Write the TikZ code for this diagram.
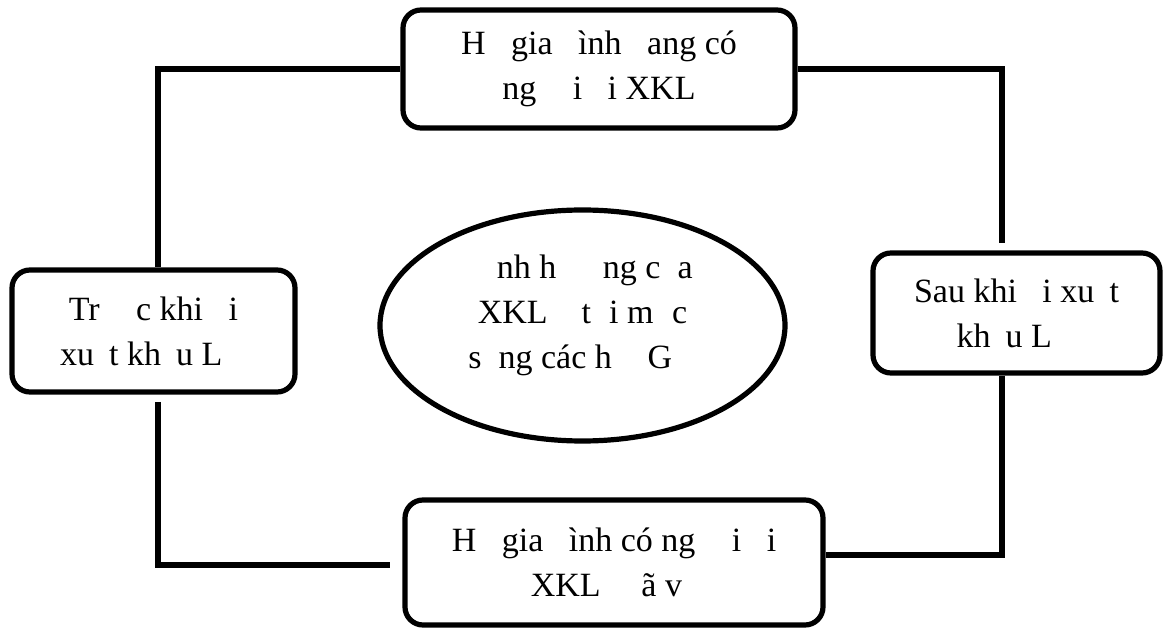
\documentclass[tikz,border=0pt]{standalone}
\usepackage{fontspec}
\setmainfont{Liberation Serif}
\usetikzlibrary{shapes.geometric}
\tikzset{every node/.append style={font=\fontsize{17}{22.5}\selectfont}}
\tikzset{box/.style={draw,rounded corners=9pt,line width=2.6pt,align=center,inner sep=0pt}}
\tikzset{conn/.style={line width=2.8pt}}

\begin{document}
\begin{tikzpicture}[x=0.5pt,y=-0.5pt]
  \useasboundingbox (0,0) rectangle (1163,630);

  \node[box,minimum width=196pt,minimum height=59pt] (current) at (599,69)
    {H\hphantom{ộ} gia \hphantom{đ}ình \hphantom{đ}ang có\\ng\hphantom{ườ}i \hphantom{đ}i XKL};
  \node[box,minimum width=141.5pt,minimum height=61pt] (before) at (153.5,331)
    {Tr\hphantom{ướ}c khi \hphantom{đ}i\\xu\hphantom{ấ}t kh\hphantom{ẩ}u L\hphantom{Đ}};
  \node[box,minimum width=143.5pt,minimum height=60pt] (after) at (1016.5,313)
    {Sau khi \hphantom{đ}i xu\hphantom{ấ}t\\kh\hphantom{ẩ}u L\hphantom{Đ}};
  \node[box,minimum width=209pt,minimum height=62.5pt] (returned) at (614,562.5)
    {H\hphantom{ộ} gia \hphantom{đ}ình có ng\hphantom{ườ}i \hphantom{đ}i\\XKL \hspace{0.45em}\hphantom{đ}ã v\hphantom{ề}};

  \node[ellipse,draw,line width=2.6pt,minimum width=202.5pt,minimum height=115.5pt] (impact) at (582.5,325.5) {};
  \node[align=center] (impacttext) at ([yshift=5pt]impact.center)
    {\hphantom{Ả}nh h\hphantom{ưở}\hspace{0.3em}ng c\hphantom{ủ}a\\XKL\hspace{0.75em} t\hphantom{ớ}i m\hphantom{ứ}c\\s\hphantom{ố}ng các h\hphantom{ộ} \hspace{0.3em}G\hphantom{Đ}};

  % connectors round the ellipse
  \coordinate (tl) at (158,68);
  \coordinate (tr) at (1002,243);
  \coordinate (br) at (1002,555);
  \coordinate (lb) at (158,402);
  \coordinate (bl) at (390,565);

  \draw[conn] (current.west) -| (before.north -| tl);
  \draw[conn] (current.east) -| (tr);
  \draw[conn] (after.south -| br) |- (returned.east |- br);
  \draw[conn] (lb) |- (bl);
\end{tikzpicture}
\end{document}
